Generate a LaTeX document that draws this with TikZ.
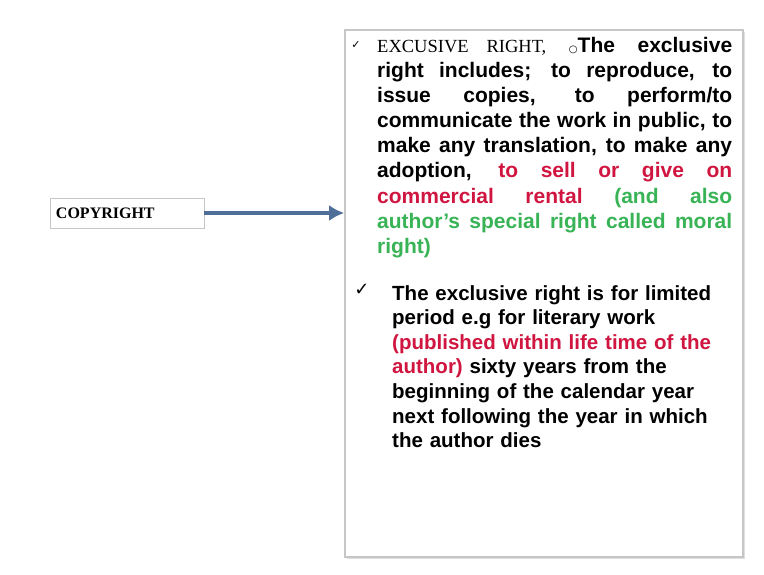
\documentclass[tikz,border=0pt]{standalone}
\usepackage{fontspec}
\setmainfont{Liberation Sans}
\newfontfamily\symfont{DejaVu Sans}
\newfontfamily\titlefont{Liberation Serif}
\usetikzlibrary{arrows.meta,shadows}

\definecolor{rentred}{RGB}{208,22,64}
\definecolor{moralgreen}{RGB}{56,180,86}
\definecolor{arrowblue}{RGB}{79,111,153}
\definecolor{boxgray}{RGB}{198,198,198}

\begin{document}
\begin{tikzpicture}[
    x=1pt,
    y=-1pt,
    box/.style={
        rectangle,
        draw=boxgray,
        fill=white,
        inner sep=0pt
    },
    para/.style={
        anchor=north west,
        inner sep=0pt,
        font=\fontsize{21}{25.1}\selectfont\bfseries
    },
    tick/.style={
        inner sep=0pt,
        font=\symfont
    },
    arrow/.style={
        -{Latex[length=15pt,width=16pt]},
        line width=3.2pt,
        arrowblue
    }
]

\useasboundingbox (0,0) rectangle (764,575);

% Riquadri
\node[box, line width=1.6pt, minimum width=398pt, minimum height=527pt,
      drop shadow={shadow xshift=1.5pt, shadow yshift=-2pt, opacity=0.25}] (rights) at (544,293.5) {};

\node[box, line width=0.8pt, minimum width=154pt, minimum height=30pt,
      text width=142pt, align=left, font=\titlefont\bfseries\fontsize{16}{16}\selectfont] (copyright) at (127,213) {COPYRIGHT};

% Freccia
\draw[arrow] (copyright.east) -- (copyright.east -| rights.west);

% Primo punto
\node[tick, font=\symfont\fontsize{11}{11}\selectfont] (tick1) at (356,45) {✓};
\node[para, text width=355pt, align=justify] (excl) at (377,37) {%
    {\titlefont\mdseries\fontsize{18.5}{18.5}\selectfont EXCUSIVE RIGHT,}
    {\symfont\mdseries\fontsize{10}{10}\selectfont ○}The exclusive\linebreak
    right includes; to reproduce, to\linebreak
    issue copies, to perform/to\linebreak
    communicate the work in public, to\linebreak
    make any translation, to make any\linebreak
    adoption, \textcolor{rentred}{to sell or give on\linebreak
    commercial rental} \textcolor{moralgreen}{(and also\linebreak
    author's special right called moral\linebreak
    right)}};

% Secondo punto
\node[tick, font=\symfont\fontsize{18}{18}\selectfont] (tick2) at (362,290) {✓};
\node[para, text width=345pt, align=left, font=\fontsize{20.5}{24.6}\selectfont\bfseries] (limit) at (392,285) {%
    The exclusive right is for limited\\
    period e.g for literary work\\
    \textcolor{rentred}{(published within life time of the}\\
    \textcolor{rentred}{author)} sixty years from the\\
    beginning of the calendar year\\
    next following the year in which\\
    the author dies};

\end{tikzpicture}
\end{document}
